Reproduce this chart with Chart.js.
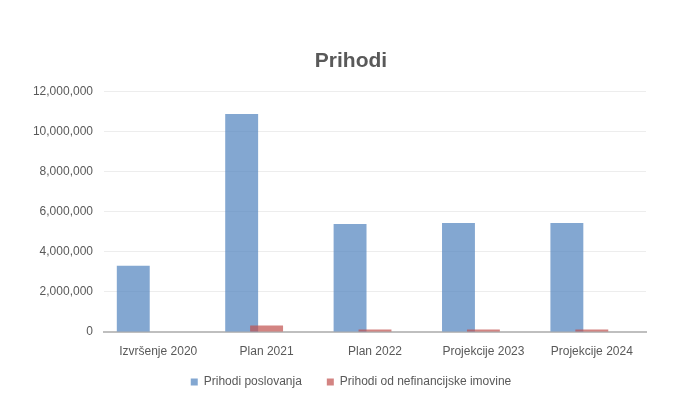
<!DOCTYPE html>
<html lang="hr">
<head>
  <meta charset="UTF-8" />
  <title>Prihodi</title>
  <script src="https://cdn.jsdelivr.net/npm/chart.js"></script>
  <style>
    * { margin: 0; padding: 0; box-sizing: border-box; }
    body { background: #fff; width: 693px; height: 408px; overflow: hidden; }
    .chart-box { position: relative; width: 693px; height: 408px; }
  </style>
</head>
<body>

<div class="chart-box"><canvas id="prihodiChart"></canvas></div>

<script>
  // data
  const categories = ['Izvršenje 2020', 'Plan 2021', 'Plan 2022', 'Projekcije 2023', 'Projekcije 2024'];
  const prihodiPoslovanja = [3300000, 10870000, 5380000, 5430000, 5430000];
  const prihodiNefinancijske = [0, 330000, 130000, 130000, 130000];
  const emptySeries = [null, null, null, null, null]; // third (empty) series keeps the bar spacing
  const yTicks = [0, 2000000, 4000000, 6000000, 8000000, 10000000, 12000000];

  const grey = '#595959';
  const font = 'Liberation Sans, Arial, sans-serif';

  const tweaks = {
    id: 'tweaks',
    // x axis box is squeezed so the legend sits close; let its labels spill below it
    beforeDraw(chart) {
      const x = chart.scales.x;
      x.bottom = x.top + 32;
    },
    // draw the red series over the blue one, as in the original
    beforeDatasetsDraw(chart) {
      [0, 1].forEach(i => chart.getDatasetMeta(i).controller.draw());
      return false;
    }
  };

  new Chart(document.getElementById('prihodiChart'), {
    type: 'bar',
    data: {
      labels: categories,
      datasets: [
        { label: 'Prihodi poslovanja', data: prihodiPoslovanja, backgroundColor: 'rgba(79,129,189,0.7)' },
        { label: 'Prihodi od nefinancijske imovine', data: prihodiNefinancijske, backgroundColor: 'rgba(192,80,77,0.7)' },
        { label: '', data: emptySeries, backgroundColor: 'rgba(0,0,0,0)' }
      ]
    },
    options: {
      responsive: true,
      maintainAspectRatio: false,
      animation: false,
      layout: { padding: { top: 27, right: 0, bottom: 10, left: 9 } },
      datasets: { bar: { categoryPercentage: 0.69, barPercentage: 1.32 } },
      plugins: {
        title: {
          display: true,
          text: 'Prihodi',
          color: grey,
          font: { family: font, size: 21, weight: 'bold' },
          padding: { top: 22, bottom: 17 }
        },
        legend: {
          position: 'bottom',
          labels: {
            color: grey,
            font: { family: font, size: 12 },
            boxWidth: 7,
            boxHeight: 7,
            padding: 25,
            filter: item => item.text !== ''
          }
        },
        tooltip: { enabled: false }
      },
      scales: {
        x: {
          afterFit: scale => { scale.height = 19; },
          grid: { display: false, drawTicks: false },
          border: { color: '#BFBFBF', width: 2 },
          ticks: { color: grey, font: { family: font, size: 12 }, padding: 12, maxRotation: 0 }
        },
        y: {
          min: 0,
          max: 12000000,
          afterFit: scale => { scale.width = 95; },
          afterBuildTicks: scale => { scale.ticks = yTicks.map(v => ({ value: v })); },
          grid: { color: '#EDEDED', drawTicks: false },
          border: { display: false },
          ticks: {
            color: grey,
            font: { family: font, size: 12 },
            padding: 11,
            callback: v => v.toLocaleString('en-US')
          }
        },
        // blank right margin
        yRight: {
          position: 'right',
          afterFit: scale => { scale.width = 47; },
          grid: { display: false },
          border: { display: false },
          ticks: { display: false }
        }
      }
    },
    plugins: [tweaks]
  });
</script>
</body>
</html>
